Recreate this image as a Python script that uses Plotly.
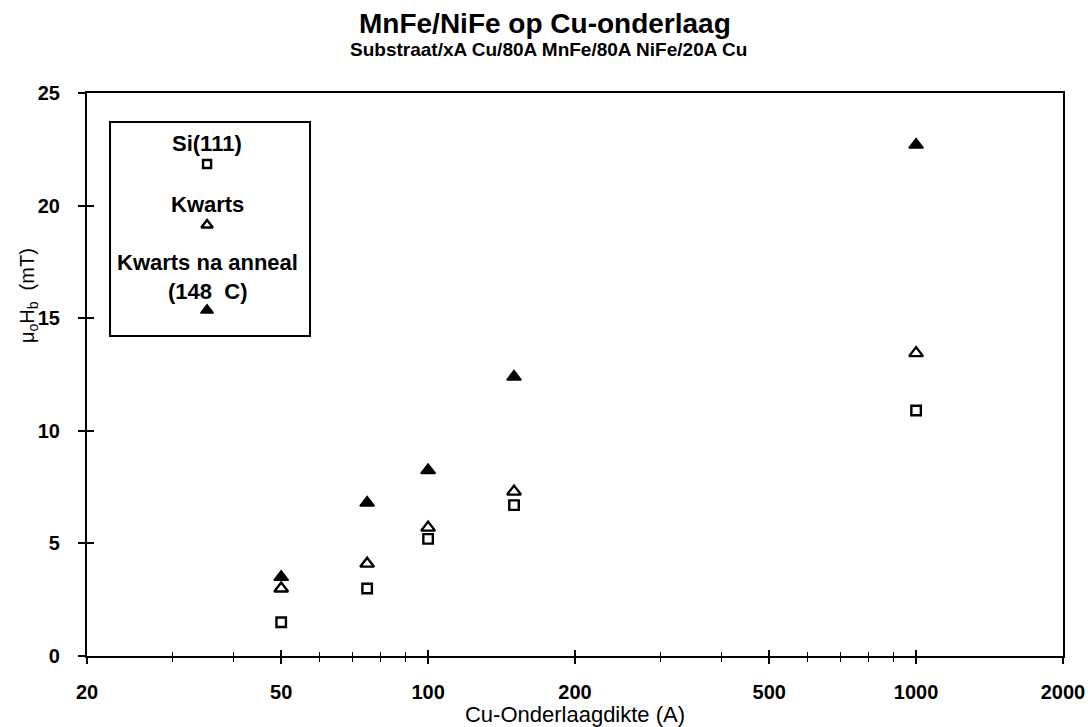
import plotly.graph_objects as go

# Data
cu_thickness = [50, 75, 100, 150, 1000]
si111 = [1.5, 3.0, 5.2, 6.7, 10.9]
kwarts = [3.0, 4.1, 5.7, 7.3, 13.45]
kwarts_anneal = [3.5, 6.8, 8.25, 12.4, 22.7]

x_ticks = [20, 50, 100, 200, 500, 1000, 2000]
x_minor = [30, 40, 60, 70, 80, 90, 300, 400, 600, 700, 800, 900]
y_ticks = [0, 5, 10, 15, 20, 25]

FONT = "Liberation Sans, Arial, Helvetica, sans-serif"
BLACK = "black"

SQ = dict(symbol="square-open", size=9.5, color=BLACK, line=dict(width=2.4, color=BLACK))
TRI_O = dict(symbol="triangle-up-open", size=12, color=BLACK, line=dict(width=2.4, color=BLACK))
TRI_F = dict(symbol="triangle-up", size=12.5, color=BLACK, line=dict(width=1.6, color=BLACK))

fig = go.Figure()

fig.add_trace(go.Scatter(x=cu_thickness, y=si111, mode="markers", name="Si(111)", marker=SQ))
fig.add_trace(go.Scatter(x=cu_thickness, y=kwarts, mode="markers", name="Kwarts", marker=TRI_O))
fig.add_trace(go.Scatter(x=cu_thickness, y=kwarts_anneal, mode="markers", name="Kwarts na anneal", marker=TRI_F))

# Custom legend glyphs on an invisible overlay axis (0..1 coordinates of the plot area)
leg_x = 0.123
leg_sq = dict(SQ, size=8)
leg_to = dict(TRI_O, size=10)
leg_tf = dict(TRI_F, size=11)
for yy, mk in [(0.874, leg_sq), (0.7655, leg_to), (0.614, leg_tf)]:
    fig.add_trace(go.Scatter(x=[leg_x], y=[yy], xaxis="x3", yaxis="y3", mode="markers",
                             showlegend=False, marker=mk, hoverinfo="skip"))

annotations = [
    dict(text="<b>MnFe/NiFe op Cu-onderlaag</b>", x=0.469, y=1.1226, xref="paper", yref="paper",
         showarrow=False, xanchor="center", yanchor="middle",
         font=dict(size=28, family=FONT, color=BLACK)),
    dict(text="<b>Substraat/xA Cu/80A MnFe/80A NiFe/20A Cu</b>", x=0.473, y=1.078, xref="paper", yref="paper",
         showarrow=False, xanchor="center", yanchor="middle",
         font=dict(size=19, family=FONT, color=BLACK)),
    dict(text="μ<sub>o</sub>H<sub>b</sub>  (mT)", x=-0.0605, y=0.641, xref="paper", yref="paper",
         showarrow=False, xanchor="center", yanchor="middle", textangle=-90,
         font=dict(size=20, family=FONT, color=BLACK)),
]

leg_texts = [("Si(111)", 0.9103), ("Kwarts", 0.8028), ("Kwarts na anneal", 0.6998), ("(148  C)", 0.6483)]
for t, yy in leg_texts:
    annotations.append(dict(text="<b>" + t + "</b>", x=leg_x, y=yy, xref="paper", yref="paper",
                            showarrow=False, xanchor="center", yanchor="middle",
                            font=dict(size=22, family=FONT, color=BLACK)))

fig.update_layout(
    width=1088, height=727,
    margin=dict(l=87, r=25, t=93, b=71),
    paper_bgcolor="white", plot_bgcolor="white",
    showlegend=False,
    font=dict(family=FONT, color=BLACK),
    annotations=annotations,
    shapes=[dict(type="rect", xref="paper", yref="paper", x0=0.0236, x1=0.2285, y0=0.5684, y1=0.9485,
                 line=dict(color=BLACK, width=2), fillcolor="rgba(0,0,0,0)", layer="below")],
    xaxis=dict(
        type="log", range=[1.30103, 3.30103], automargin=False,
        tickvals=x_ticks, ticktext=["<b>%d</b>" % v for v in x_ticks],
        ticks="outside", ticklen=6, tickwidth=1.5, tickcolor=BLACK,
        minor=dict(tickvals=x_minor, ticks="outside", ticklen=4, tickwidth=1.2, tickcolor=BLACK),
        showline=True, linecolor=BLACK, linewidth=2.2, mirror=True,
        showgrid=False, zeroline=False,
        tickfont=dict(size=20, family=FONT, color=BLACK),
        ticklabelstandoff=11,
        title=dict(text="Cu-Onderlaagdikte (A)", font=dict(size=22, family=FONT, color=BLACK), standoff=6),
    ),
    xaxis2=dict(
        type="log", range=[1.30103, 3.30103], overlaying="x", anchor="y", automargin=False,
        tickvals=x_ticks, showticklabels=False,
        ticks="inside", ticklen=6, tickwidth=1.5, tickcolor=BLACK,
        minor=dict(tickvals=x_minor, ticks="inside", ticklen=4, tickwidth=1.2, tickcolor=BLACK),
        showline=False, showgrid=False, zeroline=False,
    ),
    yaxis=dict(
        range=[0, 25], tickvals=y_ticks, ticktext=["<b>%d</b>" % v for v in y_ticks], automargin=False,
        ticks="outside", ticklen=7, tickwidth=1.5, tickcolor=BLACK,
        showline=True, linecolor=BLACK, linewidth=2.2, mirror=True,
        showgrid=False, zeroline=False,
        tickfont=dict(size=20, family=FONT, color=BLACK),
        ticklabelstandoff=14,
    ),
    yaxis2=dict(
        range=[0, 25], overlaying="y", anchor="x", tickvals=y_ticks, showticklabels=False, automargin=False,
        ticks="inside", ticklen=7, tickwidth=1.5, tickcolor=BLACK,
        showline=False, showgrid=False, zeroline=False,
    ),
    xaxis3=dict(range=[0, 1], overlaying="x", anchor="y3", visible=False, fixedrange=True),
    yaxis3=dict(range=[0, 1], overlaying="y", anchor="x3", visible=False, fixedrange=True),
)

# dummy trace to activate the inside-tick overlay axes
fig.add_trace(go.Scatter(x=[None], y=[None], xaxis="x2", yaxis="y2", showlegend=False, hoverinfo="skip"))

fig.write_html("out.html")
